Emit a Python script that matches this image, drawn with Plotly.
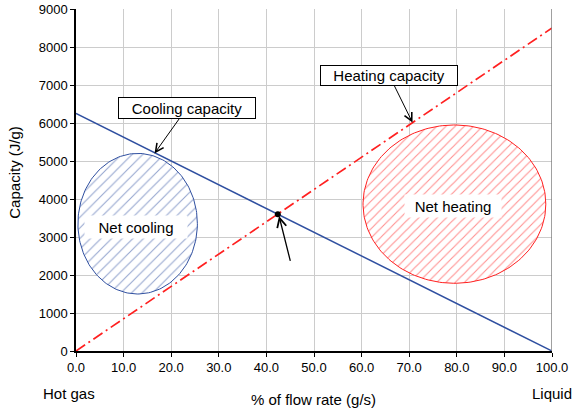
import numpy as np
import plotly.graph_objects as go

# ---- data ----
flow_pct = [0, 100]
cooling_capacity = [6250, 0]
heating_capacity = [0, 8500]
balance_x = [42.4]
balance_y = [3600]

x_ticks = [0, 10, 20, 30, 40, 50, 60, 70, 80, 90, 100]
y_ticks = [0, 1000, 2000, 3000, 4000, 5000, 6000, 7000, 8000, 9000]

# ellipse regions: center x, center y, half width, half height
net_cooling_region = [12.95, 3350, 12.55, 1850]
net_heating_region = [79.5, 3865, 19.2, 2083]

BLUE = "#2f4fa0"
RED = "#ff2020"
FONT = "Liberation Sans, Arial, sans-serif"


def ellipse(params, n=200):
    cx, cy, rx, ry = params
    t = np.linspace(0, 2 * np.pi, n)
    return cx + rx * np.cos(t), cy + ry * np.sin(t)


fig = go.Figure()

ex, ey = ellipse(net_cooling_region)
fig.add_trace(go.Scatter(
    x=ex, y=ey, mode="lines", fill="toself", fillcolor="white",
    line=dict(color=BLUE, width=1),
    fillpattern=dict(shape="/", fgcolor=BLUE, bgcolor="white", size=7.5, solidity=0.15),
    hoverinfo="skip", showlegend=False))

ex, ey = ellipse(net_heating_region)
fig.add_trace(go.Scatter(
    x=ex, y=ey, mode="lines", fill="toself", fillcolor="white",
    line=dict(color=RED, width=1),
    fillpattern=dict(shape="/", fgcolor=RED, bgcolor="white", size=6.5, solidity=0.17),
    hoverinfo="skip", showlegend=False))

fig.add_trace(go.Scatter(
    x=flow_pct, y=cooling_capacity, mode="lines",
    line=dict(color=BLUE, width=1.5), showlegend=False))

fig.add_trace(go.Scatter(
    x=flow_pct, y=heating_capacity, mode="lines",
    line=dict(color=RED, width=1.7, dash="11px,4px,2px,4px"), showlegend=False))

fig.add_trace(go.Scatter(
    x=balance_x, y=balance_y, mode="markers",
    marker=dict(color="black", size=6), showlegend=False))

# right border line
fig.add_shape(type="line", xref="x", yref="paper", x0=100, x1=100, y0=0, y1=1,
              line=dict(color="#808080", width=1.5), layer="above")

txt = dict(size=15, family=FONT, color="black")
annotations = [
    dict(x=16.5, y=5200, ax=23.3, ay=6395, xref="x", yref="y", axref="x", ayref="y",
         text="Cooling capacity", showarrow=True, arrowhead=5, arrowsize=1.6, arrowwidth=1,
         arrowcolor="black", bgcolor="white", bordercolor="black", borderwidth=1,
         borderpad=1, width=134, height=18, font=txt),
    dict(x=70.7, y=6010, ax=65.8, ay=7255, xref="x", yref="y", axref="x", ayref="y",
         text="Heating capacity", showarrow=True, arrowhead=5, arrowsize=1.6, arrowwidth=1,
         arrowcolor="black", bgcolor="white", bordercolor="black", borderwidth=1,
         borderpad=1, width=134, height=17, font=txt),
    dict(x=42.65, y=3553, ax=45.1, ay=2334, xref="x", yref="y", axref="x", ayref="y",
         text="", showarrow=True, arrowhead=5, arrowsize=1.4, arrowwidth=1.3,
         arrowcolor="black"),
    dict(x=12.5, y=3271, xref="x", yref="y", text="Net cooling", showarrow=False,
         xanchor="center", yanchor="middle", width=100, height=20,
         bgcolor="white", borderpad=1, font=txt),
    dict(x=79.1, y=3816, xref="x", yref="y", text="Net heating", showarrow=False,
         xanchor="center", yanchor="middle", width=94, height=20,
         bgcolor="white", borderpad=1, font=txt),
    dict(x=-0.0137, y=-0.1255, xref="paper", yref="paper", text="Hot gas", showarrow=False,
         xanchor="center", yanchor="middle", font=txt),
    dict(x=1.0, y=-0.123, xref="paper", yref="paper", text="Liquid", showarrow=False,
         xanchor="left", yanchor="middle", xshift=-22, font=txt),
    dict(x=0.4995, y=-0.143, xref="paper", yref="paper", text="% of flow rate (g/s)",
         xanchor="center", yanchor="middle", showarrow=False, font=txt),
    dict(x=-0.1293, y=0.5226, xref="paper", yref="paper", text="Capacity (J/g)",
         xanchor="center", yanchor="middle",
         textangle=-90, showarrow=False, font=txt),
]

fig.update_layout(
    width=572, height=409,
    margin=dict(l=76, r=20, t=9, b=58),
    paper_bgcolor="white", plot_bgcolor="white",
    font=dict(family=FONT, size=13, color="black"),
    annotations=annotations,
    xaxis=dict(range=[0, 100], tickvals=x_ticks, tickformat=".1f",
               showgrid=True, gridcolor="#cccccc", gridwidth=1,
               showline=True, linecolor="black", linewidth=1.5,
               ticks="outside", ticklen=4, tickcolor="black",
               zeroline=False, tickfont=dict(size=13), automargin=False),
    yaxis=dict(range=[0, 9000], tickvals=y_ticks,
               showgrid=True, gridcolor="#cccccc", gridwidth=1,
               showline=True, linecolor="black", linewidth=1.5,
               ticks="outside", ticklen=4, tickcolor="black",
               zeroline=False, tickfont=dict(size=13), automargin=False),
)

fig.write_html("out.html", config={"displayModeBar": False},
               post_script="document.body.style.margin='0';")
